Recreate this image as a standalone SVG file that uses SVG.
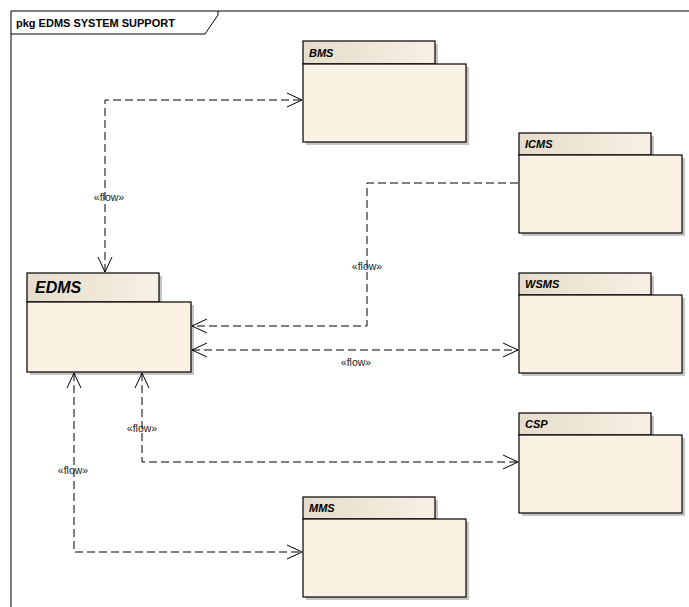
<svg xmlns="http://www.w3.org/2000/svg" width="689" height="607" viewBox="0 0 689 607">
  <style>
    .frame { fill: none; stroke: #000; stroke-width: 1; }
    .title { font-family: "Liberation Sans", Arial, sans-serif; font-size: 11px; font-weight: bold; fill: #000; }
    .tab { fill: url(#tabGrad); stroke: #000; stroke-width: 1.2; }
    .body { fill: #fbf1e3; stroke: #000; stroke-width: 1.2; }
    .shadow { fill: #c4c4c4; }
    .pname { font-family: "Liberation Sans", Arial, sans-serif; font-size: 11px; font-weight: bold; font-style: italic; fill: #000; }
    .pname-big { font-family: "Liberation Sans", Arial, sans-serif; font-size: 16px; font-weight: bold; font-style: italic; fill: #000; }
    .flow { fill: none; stroke: #000; stroke-width: 1; stroke-dasharray: 8 4; }
    .head { fill: none; stroke: #000; stroke-width: 1; }
    .lbl { font-family: "Liberation Sans", Arial, sans-serif; font-size: 10.5px; fill: #222; text-anchor: middle; }
  </style>
  <defs>
    <linearGradient id="tabGrad" x1="0" y1="0" x2="1" y2="0">
      <stop offset="0" stop-color="#e6dccb"/>
      <stop offset="1" stop-color="#f8f0e4"/>
    </linearGradient>
  </defs>

  <rect width="689" height="607" fill="#fff"/>

  <!-- diagram frame -->
  <g id="frame">
    <path class="frame" d="M11,607 V11 H689"/>
    <path class="frame" d="M11,34 H205 L218,15 V11"/>
    <text class="title" x="16" y="27">pkg EDMS SYSTEM SUPPORT</text>
  </g>

  <!-- packages -->
  <g id="BMS">
    <rect class="shadow" x="306" y="67" width="163" height="78"/>
    <rect class="shadow" x="306" y="44" width="132" height="20"/>
    <rect class="tab" x="303" y="41" width="132" height="23"/>
    <rect class="body" x="303" y="64" width="163" height="78"/>
    <text class="pname" x="309" y="57">BMS</text>
  </g>

  <g id="EDMS">
    <rect class="shadow" x="30" y="305" width="164" height="70"/>
    <rect class="shadow" x="30" y="276" width="132" height="26"/>
    <rect class="tab" x="27" y="273" width="132" height="29"/>
    <rect class="body" x="27" y="302" width="164" height="70"/>
    <text class="pname-big" x="35" y="293">EDMS</text>
  </g>

  <g id="ICMS">
    <rect class="shadow" x="522" y="158" width="163" height="78"/>
    <rect class="shadow" x="522" y="136" width="132" height="19"/>
    <rect class="tab" x="519" y="133" width="132" height="22"/>
    <rect class="body" x="519" y="155" width="163" height="78"/>
    <text class="pname" x="525" y="148">ICMS</text>
  </g>

  <g id="WSMS">
    <rect class="shadow" x="522" y="298" width="163" height="78"/>
    <rect class="shadow" x="522" y="276" width="132" height="19"/>
    <rect class="tab" x="519" y="273" width="132" height="22"/>
    <rect class="body" x="519" y="295" width="163" height="78"/>
    <text class="pname" x="525" y="288">WSMS</text>
  </g>

  <g id="CSP">
    <rect class="shadow" x="522" y="438" width="163" height="78"/>
    <rect class="shadow" x="522" y="416" width="132" height="19"/>
    <rect class="tab" x="519" y="413" width="132" height="22"/>
    <rect class="body" x="519" y="435" width="163" height="78"/>
    <text class="pname" x="525" y="428">CSP</text>
  </g>

  <g id="MMS">
    <rect class="shadow" x="306" y="522" width="163" height="78"/>
    <rect class="shadow" x="306" y="500" width="132" height="19"/>
    <rect class="tab" x="303" y="497" width="132" height="22"/>
    <rect class="body" x="303" y="519" width="163" height="78"/>
    <text class="pname" x="309" y="512">MMS</text>
  </g>

  <!-- flow connectors -->
  <g id="connectors">
    <!-- EDMS <-> BMS -->
    <path class="flow" d="M105,272 V100 H302"/>
    <path class="head" d="M98,257 L105,272 L112,257"/>
    <path class="head" d="M287,93 L302,100 L287,107"/>
    <text class="lbl" x="109" y="201">«flow»</text>

    <!-- ICMS -> EDMS -->
    <path class="flow" d="M518,183 H367 V326 H192"/>
    <path class="head" d="M207,319 L192,326 L207,333"/>
    <text class="lbl" x="367" y="270">«flow»</text>

    <!-- EDMS <-> WSMS -->
    <path class="flow" d="M192,350 H518"/>
    <path class="head" d="M207,343 L192,350 L207,357"/>
    <path class="head" d="M503,343 L518,350 L503,357"/>
    <text class="lbl" x="356" y="366">«flow»</text>

    <!-- EDMS <-> CSP -->
    <path class="flow" d="M142,373 V462 H518"/>
    <path class="head" d="M135,388 L142,373 L149,388"/>
    <path class="head" d="M503,455 L518,462 L503,469"/>
    <text class="lbl" x="142" y="432">«flow»</text>

    <!-- EDMS <-> MMS -->
    <path class="flow" d="M74,373 V552 H302"/>
    <path class="head" d="M67,388 L74,373 L81,388"/>
    <path class="head" d="M287,545 L302,552 L287,559"/>
    <text class="lbl" x="73" y="474">«flow»</text>
  </g>
</svg>
